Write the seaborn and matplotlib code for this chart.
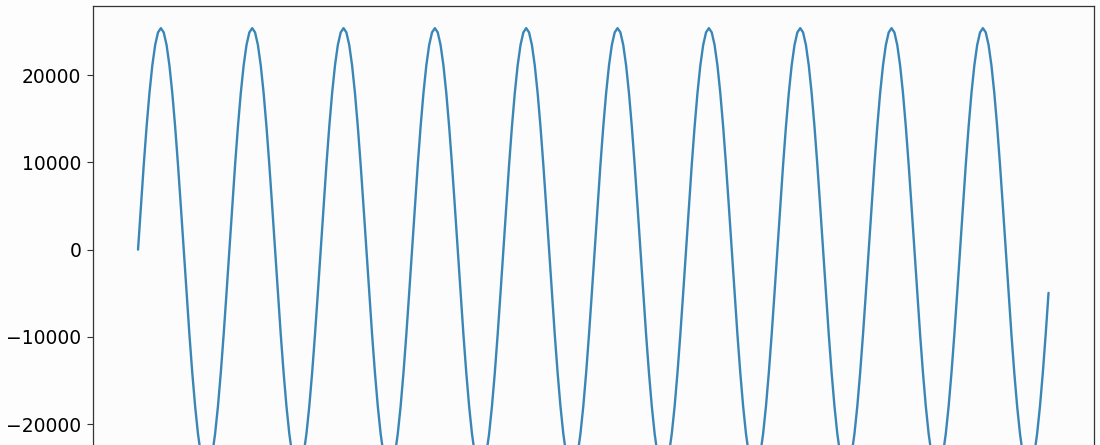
import numpy as np
import pandas as pd
import matplotlib
matplotlib.use('agg')
import matplotlib.pyplot as plt
import seaborn as sns

amplitude = [
    0, 4955, 9720, 14111, 17961, 21119, 23467, 24912, 25400, 24912, 23467, 21119, 17961, 14111, 9720, 4955,
    0, -4955, -9720, -14111, -17961, -21119, -23467, -24912, -25400, -24912, -23467, -21119, -17961, -14111, -9720, -4955,
    0, 4955, 9720, 14111, 17961, 21119, 23467, 24912, 25400, 24912, 23467, 21119, 17961, 14111, 9720, 4955,
    0, -4955, -9720, -14111, -17961, -21119, -23467, -24912, -25400, -24912, -23467, -21119, -17961, -14111, -9720, -4955,
    0, 4955, 9720, 14111, 17961, 21119, 23467, 24912, 25400, 24912, 23467, 21119, 17961, 14111, 9720, 4955,
    0, -4955, -9720, -14111, -17961, -21119, -23467, -24912, -25400, -24912, -23467, -21119, -17961, -14111, -9720, -4955,
    0, 4955, 9720, 14111, 17961, 21119, 23467, 24912, 25400, 24912, 23467, 21119, 17961, 14111, 9720, 4955,
    0, -4955, -9720, -14111, -17961, -21119, -23467, -24912, -25400, -24912, -23467, -21119, -17961, -14111, -9720, -4955,
    0, 4955, 9720, 14111, 17961, 21119, 23467, 24912, 25400, 24912, 23467, 21119, 17961, 14111, 9720, 4955,
    0, -4955, -9720, -14111, -17961, -21119, -23467, -24912, -25400, -24912, -23467, -21119, -17961, -14111, -9720, -4955,
    0, 4955, 9720, 14111, 17961, 21119, 23467, 24912, 25400, 24912, 23467, 21119, 17961, 14111, 9720, 4955,
    0, -4955, -9720, -14111, -17961, -21119, -23467, -24912, -25400, -24912, -23467, -21119, -17961, -14111, -9720, -4955,
    0, 4955, 9720, 14111, 17961, 21119, 23467, 24912, 25400, 24912, 23467, 21119, 17961, 14111, 9720, 4955,
    0, -4955, -9720, -14111, -17961, -21119, -23467, -24912, -25400, -24912, -23467, -21119, -17961, -14111, -9720, -4955,
    0, 4955, 9720, 14111, 17961, 21119, 23467, 24912, 25400, 24912, 23467, 21119, 17961, 14111, 9720, 4955,
    0, -4955, -9720, -14111, -17961, -21119, -23467, -24912, -25400, -24912, -23467, -21119, -17961, -14111, -9720, -4955,
    0, 4955, 9720, 14111, 17961, 21119, 23467, 24912, 25400, 24912, 23467, 21119, 17961, 14111, 9720, 4955,
    0, -4955, -9720, -14111, -17961, -21119, -23467, -24912, -25400, -24912, -23467, -21119, -17961, -14111, -9720, -4955,
    0, 4955, 9720, 14111, 17961, 21119, 23467, 24912, 25400, 24912, 23467, 21119, 17961, 14111, 9720, 4955,
    0, -4955, -9720, -14111, -17961, -21119, -23467, -24912, -25400, -24912, -23467, -21119, -17961, -14111, -9720, -4955,
]
yticks = [-20000, -10000, 0, 10000, 20000]

dfWave = pd.DataFrame({"sample": np.arange(len(amplitude)), "amplitude": amplitude})

sns.set_style("ticks")
plt.rcParams['font.family'] = ['DejaVu Sans']

fig = plt.figure(figsize=(11, 4.45), dpi=100, facecolor='#fdfdfd')
# axes runs past the bottom edge of the picture, like the cropped original
ax = fig.add_axes([0.0841, -0.1085, 0.9105, 1.095])
ax.set_facecolor('#fcfcfd')

sns.lineplot(data=dfWave, x="sample", y="amplitude", ax=ax, color='#3a86b6', linewidth=1.7)

ax.set_yticks(yticks)
ax.set_xticks([])
ax.set_xlabel("")
ax.set_ylabel("")
ax.tick_params(axis='y', labelsize=13.5, length=4.5, width=0.8, direction='out', colors='#333333', labelcolor='black')
for s in ax.spines.values():
    s.set_linewidth(0.9)
    s.set_color('#333333')

fig.savefig("out.png", dpi=100, facecolor=fig.get_facecolor())
